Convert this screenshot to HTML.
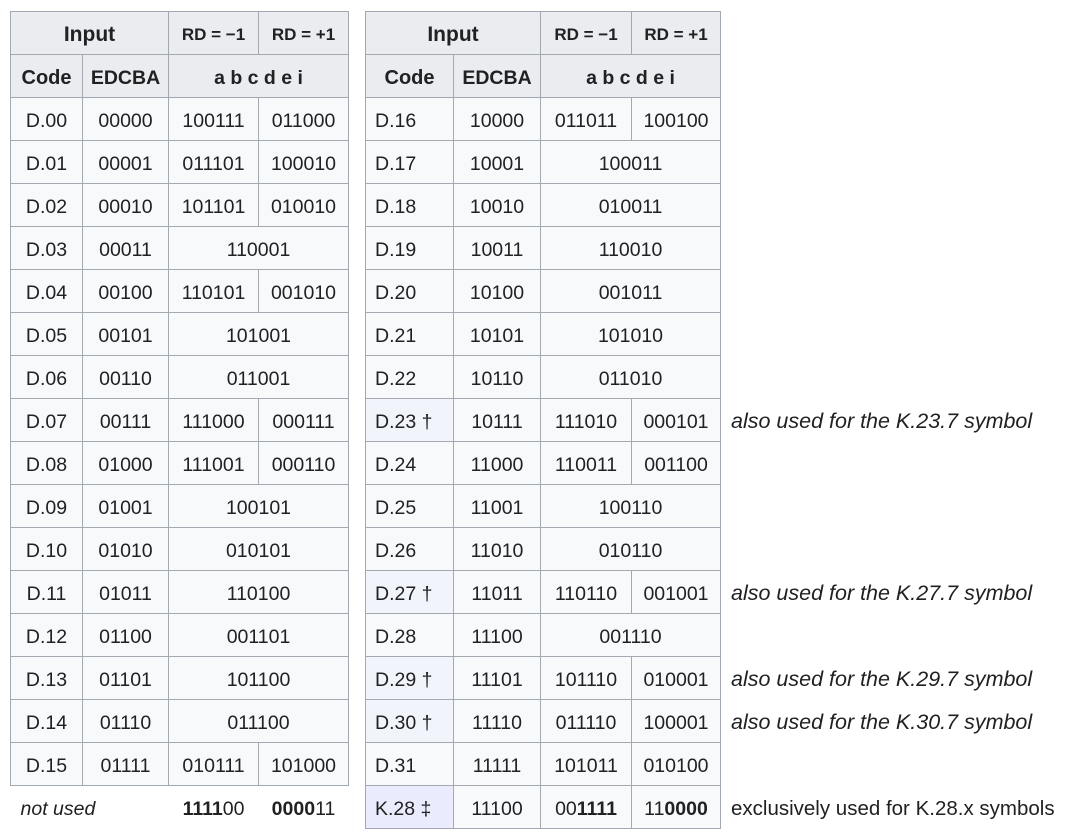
<!DOCTYPE html>
<html><head><meta charset="utf-8">
<style>
body{margin:0;background:#fff;width:1083px;height:838px;overflow:hidden;position:relative;font-family:"Liberation Sans",sans-serif;color:#202122}
table{position:absolute;top:11px;border-collapse:collapse;table-layout:fixed;font-size:19.5px}
td,th{border:1px solid #a2a9b1;height:38px;padding:4px 0 0 0;text-align:center;background:#f8f9fa;font-weight:normal;white-space:nowrap}
th{background:#eaecf0;font-weight:bold}
th.sm{font-size:17px}
td.l{text-align:left;padding-left:9px}
td.dag{background:#f2f4fc}
td.k{background:#eaecfe}
.plain{background:#fff;border:none}
.note{position:absolute;left:731px;font-style:italic;font-size:21.5px;line-height:43px}
</style></head><body>
<table id="left" style="left:10px;width:338px">
<colgroup><col style="width:72px"><col style="width:86px"><col style="width:90px"><col style="width:90px"></colgroup>
<tr><th colspan="2" style="font-size:21px">Input</th><th class="sm">RD = −1</th><th class="sm">RD = +1</th></tr>
<tr><th style="font-size:20px">Code</th><th>EDCBA</th><th colspan="2">a b c d e i</th></tr>
<tbody id="lb"></tbody>
</table>
<table id="right" style="left:365px;width:355px">
<colgroup><col style="width:88px"><col style="width:87px"><col style="width:91px"><col style="width:89px"></colgroup>
<tr><th colspan="2" style="font-size:21px">Input</th><th class="sm">RD = −1</th><th class="sm">RD = +1</th></tr>
<tr><th style="font-size:20px">Code</th><th>EDCBA</th><th colspan="2">a b c d e i</th></tr>
<tbody id="rb"></tbody>
</table>
<div class="note" style="top:400px">also used for the K.23.7 symbol</div>
<div class="note" style="top:572px">also used for the K.27.7 symbol</div>
<div class="note" style="top:658px">also used for the K.29.7 symbol</div>
<div class="note" style="top:701px">also used for the K.30.7 symbol</div>
<div class="note" style="top:787px;font-style:normal;font-size:20.5px">exclusively used for K.28.x symbols</div>
<script>
const leftRows=[["D.00","00000","100111","011000"],["D.01","00001","011101","100010"],["D.02","00010","101101","010010"],["D.03","00011","110001"],["D.04","00100","110101","001010"],["D.05","00101","101001"],["D.06","00110","011001"],["D.07","00111","111000","000111"],["D.08","01000","111001","000110"],["D.09","01001","100101"],["D.10","01010","010101"],["D.11","01011","110100"],["D.12","01100","001101"],["D.13","01101","101100"],["D.14","01110","011100"],["D.15","01111","010111","101000"]];
const rightRows=[["D.16","10000","011011","100100"],["D.17","10001","100011"],["D.18","10010","010011"],["D.19","10011","110010"],["D.20","10100","001011"],["D.21","10101","101010"],["D.22","10110","011010"],["D.23 †","10111","111010","000101"],["D.24","11000","110011","001100"],["D.25","11001","100110"],["D.26","11010","010110"],["D.27 †","11011","110110","001001"],["D.28","11100","001110"],["D.29 †","11101","101110","010001"],["D.30 †","11110","011110","100001"],["D.31","11111","101011","010100"]];
function fill(id,rows,left){
  const tb=document.getElementById(id);
  rows.forEach(r=>{
    const tr=document.createElement('tr');
    
    
    let h='<td class="'+(left?'':'l')+(r[0].includes('†')?' dag':'')+'">'+r[0]+'</td><td>'+r[1]+'</td>';
    if(r.length===4)h+='<td>'+r[2]+'</td><td>'+r[3]+'</td>';
    else h+='<td colspan="2">'+r[2]+'</td>';
    tr.innerHTML=h;tb.appendChild(tr);
  });
}
fill('lb',leftRows,true);fill('rb',rightRows,false);
document.getElementById('lb').insertAdjacentHTML('beforeend','<tr><td class="plain" colspan="2" style="font-style:italic;text-align:left;padding-left:10px">not used</td><td class="plain"><b>1111</b>00</td><td class="plain"><b>0000</b>11</td></tr>');
document.getElementById('rb').insertAdjacentHTML('beforeend','<tr><td class="l k">K.28 ‡</td><td>11100</td><td>00<b>1111</b></td><td>11<b>0000</b></td></tr>');
</script>
</body></html>
